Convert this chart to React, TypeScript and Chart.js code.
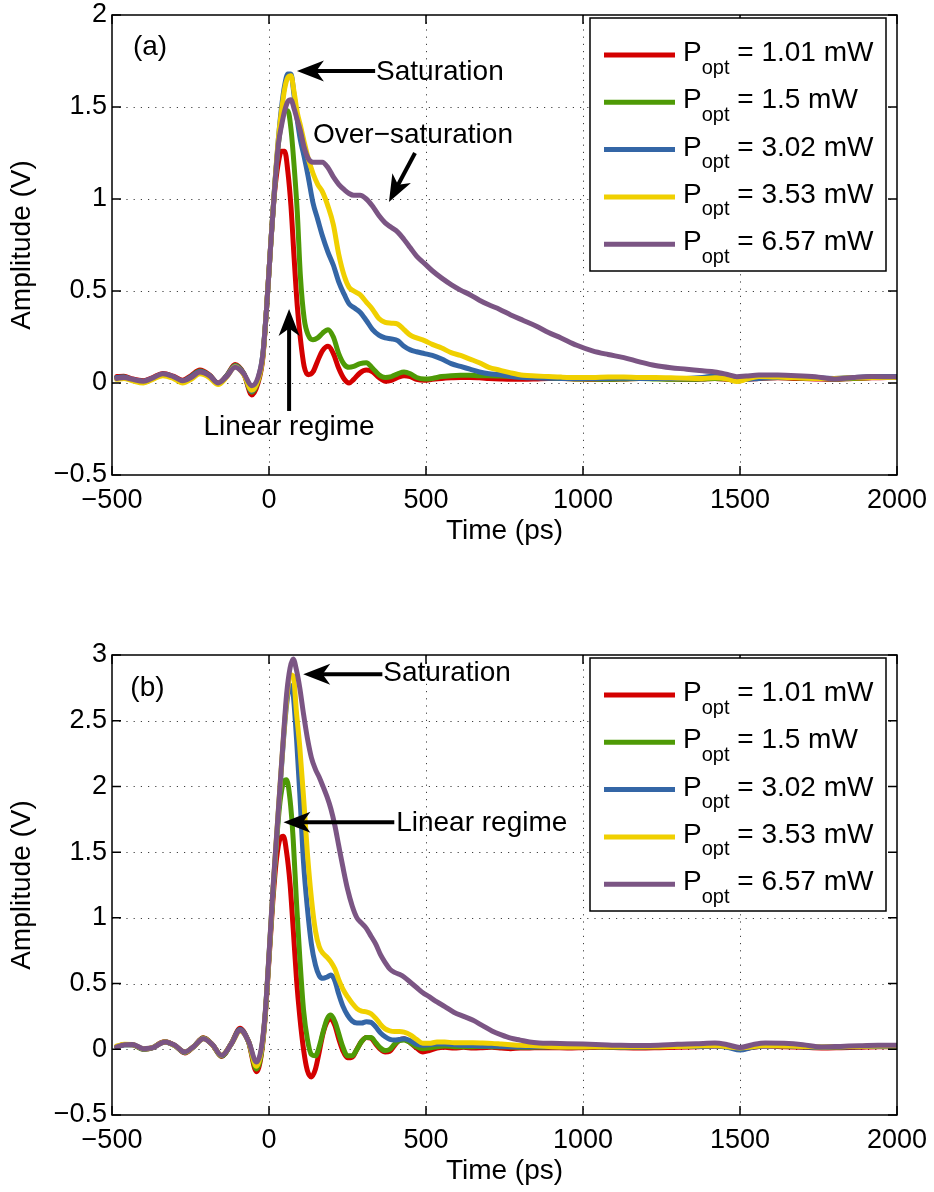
import React, { useEffect, useRef } from 'react';
import { Chart, registerables } from 'chart.js';

Chart.register(...registerables);

const FONT = '"Liberation Sans", Arial, Helvetica, sans-serif';

// ---------- legend / series meta ----------
const powerLabels = ['1.01', '1.5', '3.02', '3.53', '6.57'];
const seriesColors = ['#d40000', '#4e9a06', '#3466a6', '#f0d000', '#7b5584'];

// ---------- tick labels ----------
const xTicks = [-500, 0, 500, 1000, 1500, 2000];
const yTicksA = [-0.5, 0, 0.5, 1, 1.5, 2];
const yTicksB = [-0.5, 0, 0.5, 1, 1.5, 2, 2.5, 3];

// ---------- panel (a) ----------
const timeA = [
  -485, -462, -435, -400, -370, -338, -305, -275, -248, -220,
  -190, -162, -135, -108, -80, -55, -35, -20, -8, 5,
  18, 30, 40, 50, 60, 70, 80, 90, 100, 112,
  125, 140, 155, 170, 188, 205, 222, 240, 255, 270,
  290, 310, 330, 350, 370, 390, 410, 430, 450, 470,
  495, 520, 550, 580, 610, 640, 670, 700, 735, 770,
  810, 850, 890, 930, 980, 1030, 1080, 1130, 1180, 1230,
  1280, 1330, 1380, 1420, 1460, 1490, 1520, 1560, 1620, 1680,
  1740, 1800, 1860, 1920, 1970, 2000,
];
const redA = [
  0.035, 0.037, 0.022, 0.012, 0.03, 0.052, 0.037, 0.015, 0.04, 0.07,
  0.045, 0.0, 0.04, 0.1, 0.05, -0.065, 0.0, 0.13, 0.4, 0.74,
  1.04, 1.2, 1.26, 1.26, 1.15, 0.96, 0.68, 0.42, 0.24, 0.09,
  0.045, 0.06, 0.12, 0.175, 0.2, 0.16, 0.08, 0.02, 0.0, 0.02,
  0.055, 0.07, 0.06, 0.03, 0.01, 0.015, 0.03, 0.04, 0.035, 0.02,
  0.015, 0.02, 0.025, 0.028, 0.03, 0.03, 0.028, 0.025, 0.022, 0.02,
  0.02, 0.022, 0.025, 0.025, 0.022, 0.02, 0.02, 0.022, 0.025, 0.025,
  0.022, 0.02, 0.022, 0.025, 0.02, 0.015, 0.02, 0.025, 0.028, 0.025,
  0.022, 0.02, 0.025, 0.028, 0.03, 0.03,
];
const greenA = [
  0.028, 0.033, 0.018, 0.008, 0.026, 0.048, 0.033, 0.01, 0.035, 0.065,
  0.042, -0.003, 0.038, 0.095, 0.05, -0.05, 0.01, 0.14, 0.4, 0.74,
  1.06, 1.3, 1.42, 1.48, 1.48, 1.38, 1.18, 0.93, 0.58, 0.35,
  0.26, 0.235, 0.245, 0.27, 0.29, 0.25, 0.16, 0.1, 0.085, 0.09,
  0.105, 0.11, 0.08, 0.045, 0.03, 0.035, 0.05, 0.06, 0.05, 0.03,
  0.022, 0.025, 0.035, 0.04, 0.042, 0.042, 0.04, 0.04, 0.038, 0.035,
  0.032, 0.03, 0.028, 0.025, 0.022, 0.022, 0.02, 0.022, 0.025, 0.022,
  0.02, 0.02, 0.022, 0.025, 0.022, 0.018, 0.022, 0.028, 0.03, 0.028,
  0.025, 0.022, 0.025, 0.03, 0.032, 0.033,
];
const blueA = [
  0.03, 0.033, 0.018, 0.008, 0.026, 0.048, 0.034, 0.01, 0.035, 0.063,
  0.042, -0.003, 0.038, 0.092, 0.05, -0.045, 0.02, 0.15, 0.4, 0.74,
  1.07, 1.33, 1.5, 1.62, 1.68, 1.68, 1.56, 1.43, 1.32, 1.23,
  1.12, 0.98, 0.89, 0.8, 0.71, 0.64, 0.55, 0.48, 0.43, 0.41,
  0.385, 0.34, 0.29, 0.26, 0.245, 0.24, 0.23, 0.2, 0.18, 0.17,
  0.16, 0.15, 0.13, 0.105, 0.09, 0.075, 0.06, 0.05, 0.045, 0.035,
  0.03, 0.028, 0.026, 0.025, 0.024, 0.024, 0.025, 0.026, 0.025, 0.024,
  0.024, 0.025, 0.03, 0.038, 0.035, 0.022, 0.02, 0.025, 0.03, 0.03,
  0.028, 0.025, 0.03, 0.035, 0.036, 0.036,
];
const yellowA = [
  0.02, 0.025, 0.012, 0.0, 0.02, 0.04, 0.025, 0.0, 0.02, 0.05,
  0.03, -0.008, 0.032, 0.088, 0.045, -0.04, 0.015, 0.14, 0.4, 0.74,
  1.07, 1.33, 1.48, 1.6, 1.66, 1.67, 1.58, 1.47, 1.4, 1.31,
  1.22, 1.14, 1.08, 1.04, 0.96, 0.86, 0.7, 0.58, 0.52, 0.5,
  0.48, 0.44, 0.4, 0.35, 0.33, 0.325, 0.32, 0.29, 0.26, 0.245,
  0.23, 0.21, 0.19, 0.165, 0.15, 0.13, 0.11, 0.085, 0.07, 0.055,
  0.042, 0.038, 0.035, 0.032, 0.03, 0.03, 0.032, 0.032, 0.03, 0.03,
  0.028, 0.026, 0.025, 0.028, 0.022, 0.008, 0.02, 0.035, 0.032, 0.028,
  0.025, 0.025, 0.028, 0.03, 0.03, 0.03,
];
const purpleA = [
  0.025, 0.03, 0.02, 0.01, 0.028, 0.05, 0.035, 0.012, 0.03, 0.06,
  0.04, 0.0, 0.035, 0.085, 0.05, -0.015, 0.03, 0.15, 0.4, 0.74,
  1.06, 1.3, 1.4, 1.48, 1.53, 1.54, 1.49, 1.43, 1.37, 1.28,
  1.22, 1.2, 1.2, 1.2, 1.17, 1.12, 1.08, 1.05, 1.03, 1.02,
  1.02, 1.0, 0.96, 0.91, 0.87, 0.845, 0.82, 0.78, 0.735, 0.69,
  0.65, 0.61, 0.57, 0.535, 0.505, 0.48, 0.45, 0.425, 0.4, 0.37,
  0.34, 0.31, 0.275, 0.245, 0.205, 0.175, 0.155, 0.138, 0.115, 0.095,
  0.083, 0.075, 0.066, 0.06, 0.046, 0.034, 0.038, 0.043, 0.043, 0.04,
  0.034, 0.022, 0.03, 0.035, 0.034, 0.033,
];

// ---------- panel (b) ----------
const timeB = [
  -485, -460, -435, -400, -370, -345, -330, -300, -268, -240,
  -209, -180, -151, -120, -92, -65, -40, -25, -13, 0,
  12, 24, 35, 46, 56, 67, 77, 88, 98, 110,
  122, 135, 148, 160, 172, 185, 197, 210, 222, 235,
  250, 265, 280, 295, 310, 325, 340, 355, 370, 385,
  400, 415, 430, 450, 470, 490, 510, 535, 560, 590,
  620, 650, 680, 710, 740, 770, 800, 830, 860, 900,
  950, 1000, 1060, 1120, 1180, 1240, 1300, 1360, 1420, 1460,
  1500, 1540, 1580, 1640, 1700, 1760, 1820, 1880, 1940, 2000,
];
const redB = [
  0.02, 0.036, 0.035, 0.0, 0.012, 0.05, 0.058, 0.03, -0.028, 0.02,
  0.088, 0.035, -0.055, 0.045, 0.16, 0.055, -0.17, -0.05, 0.22, 0.68,
  1.12, 1.45, 1.6, 1.62, 1.5, 1.26, 0.92, 0.52, 0.25, 0.0,
  -0.16, -0.21, -0.15, -0.02, 0.12, 0.21, 0.23, 0.18, 0.08, -0.01,
  -0.065, -0.06, 0.0, 0.06, 0.09, 0.085, 0.04, 0.0, -0.02, -0.015,
  0.03, 0.07, 0.08, 0.05, 0.01, -0.02, -0.01, 0.01, 0.015, 0.01,
  0.015, 0.01, 0.012, 0.015, 0.01, 0.005, 0.01, 0.01, 0.012, 0.012,
  0.01, 0.012, 0.015, 0.012, 0.01, 0.012, 0.015, 0.02, 0.025, 0.02,
  0.0, 0.015, 0.025, 0.02, 0.015, 0.01, 0.012, 0.015, 0.02, 0.02,
];
const greenB = [
  0.02, 0.034, 0.034, 0.0, 0.012, 0.048, 0.056, 0.028, -0.025, 0.02,
  0.085, 0.035, -0.052, 0.042, 0.15, 0.055, -0.15, -0.04, 0.23, 0.7,
  1.16, 1.58, 1.88, 2.03, 2.05, 1.9, 1.6, 1.1, 0.7, 0.3,
  0.08, -0.04, -0.05, 0.02, 0.13, 0.23, 0.26, 0.21, 0.12, 0.02,
  -0.05, -0.05, 0.0, 0.06, 0.09, 0.09, 0.05, 0.01, -0.01, 0.0,
  0.04, 0.065, 0.07, 0.05, 0.02, 0.005, 0.01, 0.02, 0.025, 0.02,
  0.02, 0.02, 0.022, 0.02, 0.02, 0.018, 0.015, 0.015, 0.018, 0.02,
  0.02, 0.02, 0.018, 0.015, 0.018, 0.02, 0.022, 0.025, 0.028, 0.02,
  0.003, 0.018, 0.03, 0.028, 0.02, 0.015, 0.018, 0.02, 0.025, 0.025,
];
const blueB = [
  0.02, 0.034, 0.035, 0.002, 0.012, 0.046, 0.056, 0.028, -0.022, 0.02,
  0.083, 0.035, -0.05, 0.042, 0.15, 0.06, -0.12, -0.02, 0.24, 0.71,
  1.18, 1.6, 1.98, 2.35, 2.62, 2.77, 2.7, 2.35, 1.95, 1.42,
  1.08, 0.8, 0.64, 0.56, 0.54, 0.55, 0.565, 0.52, 0.42, 0.33,
  0.26, 0.215, 0.2, 0.2, 0.21, 0.205, 0.17, 0.125, 0.095, 0.075,
  0.07, 0.075, 0.08, 0.065, 0.04, 0.03, 0.035, 0.04, 0.04, 0.035,
  0.03, 0.028, 0.025, 0.025, 0.022, 0.02, 0.02, 0.02, 0.02, 0.02,
  0.02, 0.02, 0.02, 0.018, 0.018, 0.02, 0.022, 0.022, 0.025, 0.015,
  -0.005, 0.015, 0.025, 0.025, 0.02, 0.015, 0.018, 0.02, 0.022, 0.022,
];
const yellowB = [
  0.025, 0.038, 0.036, 0.004, 0.014, 0.046, 0.055, 0.028, -0.02, 0.02,
  0.08, 0.034, -0.045, 0.04, 0.14, 0.06, -0.13, -0.02, 0.24, 0.71,
  1.19, 1.62, 2.0, 2.37, 2.65, 2.85, 2.84, 2.55, 2.3, 1.92,
  1.5, 1.15, 0.9, 0.78, 0.73, 0.7, 0.665, 0.61, 0.53, 0.46,
  0.4, 0.35, 0.31, 0.29, 0.285, 0.27, 0.235, 0.19, 0.155, 0.14,
  0.135, 0.135, 0.13, 0.11, 0.075, 0.045, 0.045, 0.055, 0.055, 0.05,
  0.05, 0.05, 0.048, 0.045, 0.04, 0.035, 0.03, 0.028, 0.025, 0.02,
  0.018, 0.018, 0.02, 0.02, 0.02, 0.02, 0.022, 0.025, 0.028, 0.02,
  0.01, 0.02, 0.028, 0.025, 0.022, 0.018, 0.02, 0.022, 0.025, 0.025,
];
const purpleB = [
  0.018, 0.035, 0.037, 0.005, 0.012, 0.045, 0.056, 0.03, -0.02, 0.02,
  0.081, 0.035, -0.046, 0.04, 0.145, 0.06, -0.097, 0.0, 0.25, 0.72,
  1.2, 1.62, 2.0, 2.38, 2.7, 2.9, 2.97, 2.88, 2.75, 2.55,
  2.37, 2.22, 2.13, 2.07, 2.0, 1.92, 1.83, 1.7, 1.55, 1.39,
  1.22, 1.09, 1.0, 0.96, 0.92, 0.86, 0.8, 0.72, 0.66, 0.61,
  0.585, 0.57, 0.55, 0.51, 0.47, 0.43, 0.4, 0.36, 0.325, 0.28,
  0.25, 0.22, 0.18, 0.14, 0.11, 0.085, 0.07, 0.055, 0.048, 0.045,
  0.043, 0.04, 0.035, 0.03, 0.028, 0.03, 0.038, 0.042, 0.048, 0.035,
  0.013, 0.035, 0.048, 0.045, 0.035, 0.018, 0.022, 0.027, 0.03, 0.03,
];

// ---------- annotations (data coordinates) ----------
const labelsA = [
  { text: '(a)', x: -379, y: 1.826, align: 'center' },
  { text: 'Saturation', x: 341, y: 1.69, align: 'left' },
  { text: 'Over\u2212saturation', x: 140, y: 1.348, align: 'left' },
  { text: 'Linear regime', x: 64, y: -0.239, align: 'center' },
];
const arrowsA = [
  { from: [338, 1.696], to: [89, 1.696] },
  { from: [465, 1.25], to: [382, 0.984] },
  { from: [64, -0.152], to: [64, 0.402] },
];
const labelsB = [
  { text: '(b)', x: -387, y: 2.747, align: 'center' },
  { text: 'Saturation', x: 364, y: 2.861, align: 'left' },
  { text: 'Linear regime', x: 405, y: 1.72, align: 'left' },
];
const arrowsB = [
  { from: [361, 2.854], to: [109, 2.854] },
  { from: [399, 1.728], to: [46, 1.728] },
];

const fmt = (v: number) => String(v).replace('-', '\u2212');

function drawArrow(ctx: CanvasRenderingContext2D, x1: number, y1: number, x2: number, y2: number) {
  const ang = Math.atan2(y2 - y1, x2 - x1);
  const headLen = 27;
  const headW = 10.5;
  ctx.save();
  ctx.strokeStyle = '#000';
  ctx.fillStyle = '#000';
  ctx.lineWidth = 4;
  ctx.lineCap = 'butt';
  const bx = x2 - Math.cos(ang) * headLen * 0.7;
  const by = y2 - Math.sin(ang) * headLen * 0.7;
  ctx.beginPath();
  ctx.moveTo(x1, y1);
  ctx.lineTo(bx, by);
  ctx.stroke();
  ctx.translate(x2, y2);
  ctx.rotate(ang);
  ctx.beginPath();
  ctx.moveTo(0, 0);
  ctx.lineTo(-headLen, -headW);
  ctx.lineTo(-headLen * 0.72, 0);
  ctx.lineTo(-headLen, headW);
  ctx.closePath();
  ctx.fill();
  ctx.restore();
}

function makeChart(
  canvas: HTMLCanvasElement,
  time: number[],
  series: number[][],
  yTicks: number[],
  labels: any[],
  arrows: any[],
) {
  const yMin = yTicks[0];
  const yMax = yTicks[yTicks.length - 1];

  const framePlugin = {
    id: 'frame',
    beforeDatasetsDraw(chart: any) {
      const { ctx, chartArea: a, scales } = chart;
      ctx.save();
      ctx.strokeStyle = 'rgba(0,0,0,0.75)';
      ctx.lineWidth = 1;
      ctx.setLineDash([1.2, 6]);
      xTicks.forEach((v) => {
        const px = Math.round(scales.x.getPixelForValue(v)) + 0.5;
        if (px <= a.left + 1 || px >= a.right - 1) return;
        ctx.beginPath();
        ctx.moveTo(px, a.top);
        ctx.lineTo(px, a.bottom);
        ctx.stroke();
      });
      yTicks.forEach((v) => {
        const py = Math.round(scales.y.getPixelForValue(v)) + 0.5;
        if (py <= a.top + 1 || py >= a.bottom - 1) return;
        ctx.beginPath();
        ctx.moveTo(a.left, py);
        ctx.lineTo(a.right, py);
        ctx.stroke();
      });
      ctx.restore();
    },
    afterDraw(chart: any) {
      const { ctx, chartArea: a, scales } = chart;
      ctx.save();
      // box
      ctx.strokeStyle = '#000';
      ctx.lineWidth = 1.5;
      ctx.strokeRect(a.left, a.top, a.right - a.left, a.bottom - a.top);
      // inward ticks
      const tl = 9;
      ctx.beginPath();
      xTicks.forEach((v) => {
        const px = scales.x.getPixelForValue(v);
        ctx.moveTo(px, a.bottom);
        ctx.lineTo(px, a.bottom - tl);
        ctx.moveTo(px, a.top);
        ctx.lineTo(px, a.top + tl);
      });
      yTicks.forEach((v) => {
        const py = scales.y.getPixelForValue(v);
        ctx.moveTo(a.left, py);
        ctx.lineTo(a.left + tl, py);
        ctx.moveTo(a.right, py);
        ctx.lineTo(a.right - tl, py);
      });
      ctx.stroke();

      // annotations
      arrows.forEach((ar) => {
        drawArrow(
          ctx,
          scales.x.getPixelForValue(ar.from[0]),
          scales.y.getPixelForValue(ar.from[1]),
          scales.x.getPixelForValue(ar.to[0]),
          scales.y.getPixelForValue(ar.to[1]),
        );
      });
      ctx.fillStyle = '#000';
      ctx.font = `28px ${FONT}`;
      ctx.textBaseline = 'middle';
      labels.forEach((lb) => {
        ctx.textAlign = lb.align;
        ctx.fillText(lb.text, scales.x.getPixelForValue(lb.x), scales.y.getPixelForValue(lb.y));
      });

      // legend
      const w = 296;
      const h = 253;
      const left = a.right - 11 - w;
      const top = a.top + 3;
      ctx.fillStyle = '#fff';
      ctx.fillRect(left, top, w, h);
      ctx.strokeStyle = '#000';
      ctx.lineWidth = 1.5;
      ctx.strokeRect(left, top, w, h);
      ctx.textAlign = 'left';
      ctx.textBaseline = 'alphabetic';
      powerLabels.forEach((p, i) => {
        const rowY = top + 37 + i * 47.3;
        ctx.strokeStyle = seriesColors[i];
        ctx.lineWidth = 5;
        ctx.beginPath();
        ctx.moveTo(left + 14, rowY);
        ctx.lineTo(left + 85, rowY);
        ctx.stroke();
        ctx.fillStyle = '#000';
        let x = left + 93;
        ctx.font = `28px ${FONT}`;
        ctx.fillText('P', x, rowY + 6);
        x += ctx.measureText('P').width;
        ctx.font = `20px ${FONT}`;
        ctx.fillText('opt', x, rowY + 18.5);
        x += ctx.measureText('opt').width;
        ctx.font = `28px ${FONT}`;
        ctx.fillText(` = ${p} mW`, x, rowY + 6);
      });
      ctx.restore();
    },
  };

  const datasets = series.map((vals, i) => ({
    label: `P_opt = ${powerLabels[i]} mW`,
    data: time.map((t, j) => ({ x: t, y: vals[j] })),
    borderColor: seriesColors[i],
    backgroundColor: seriesColors[i],
    borderWidth: 5,
    pointRadius: 0,
    cubicInterpolationMode: 'monotone',
    borderJoinStyle: 'round',
    borderCapStyle: 'round',
    fill: false,
    order: series.length - i,
  }));

  return new Chart(canvas, {
    type: 'line',
    data: { datasets },
    options: {
      animation: false,
      responsive: false,
      devicePixelRatio: 1,
      layout: { padding: { top: 15, right: 37, left: 0, bottom: 0 } },
      plugins: { legend: { display: false }, tooltip: { enabled: false } },
      scales: {
        x: {
          type: 'linear',
          min: xTicks[0],
          max: xTicks[xTicks.length - 1],
          grid: { display: false, drawTicks: false },
          border: { display: false },
          afterBuildTicks: (s: any) => {
            s.ticks = xTicks.map((v) => ({ value: v }));
          },
          afterFit: (s: any) => {
            s.height = 77;
            s.paddingLeft = 0;
            s.paddingRight = 0;
          },
          ticks: {
            color: '#000',
            font: { family: FONT, size: 27 },
            padding: 9,
            maxRotation: 0,
            autoSkip: false,
            callback: (v: any) => fmt(Number(v)),
          },
          title: {
            display: true,
            text: 'Time (ps)',
            color: '#000',
            font: { family: FONT, size: 28 },
            padding: { top: 0, bottom: 4 },
          },
        },
        y: {
          type: 'linear',
          min: yMin,
          max: yMax,
          grid: { display: false, drawTicks: false },
          border: { display: false },
          afterBuildTicks: (s: any) => {
            s.ticks = yTicks.map((v) => ({ value: v }));
          },
          afterFit: (s: any) => {
            s.width = 112;
            s.paddingTop = 0;
            s.paddingBottom = 0;
          },
          ticks: {
            color: '#000',
            font: { family: FONT, size: 27 },
            padding: 5,
            autoSkip: false,
            callback: (v: any) => fmt(Number(v)),
          },
          title: {
            display: true,
            text: 'Amplitude (V)',
            color: '#000',
            font: { family: FONT, size: 28 },
            padding: { top: 5, bottom: 0 },
          },
        },
      },
    },
    plugins: [framePlugin],
  } as any);
}

export default function App() {
  const refA = useRef<HTMLCanvasElement>(null);
  const refB = useRef<HTMLCanvasElement>(null);

  useEffect(() => {
    const cA = makeChart(
      refA.current as HTMLCanvasElement,
      timeA,
      [redA, greenA, blueA, yellowA, purpleA],
      yTicksA,
      labelsA,
      arrowsA,
    );
    const cB = makeChart(
      refB.current as HTMLCanvasElement,
      timeB,
      [redB, greenB, blueB, yellowB, purpleB],
      yTicksB,
      labelsB,
      arrowsB,
    );
    return () => {
      cA.destroy();
      cB.destroy();
    };
  }, []);

  return (
    <div style={{ position: 'absolute', left: 0, top: 0, width: 934, height: 1192, background: '#fff' }}>
      <canvas
        ref={refA}
        width={934}
        height={552}
        style={{ position: 'absolute', left: 0, top: 0, width: 934, height: 552 }}
      />
      <canvas
        ref={refB}
        width={934}
        height={552}
        style={{ position: 'absolute', left: 0, top: 640, width: 934, height: 552 }}
      />
    </div>
  );
}
